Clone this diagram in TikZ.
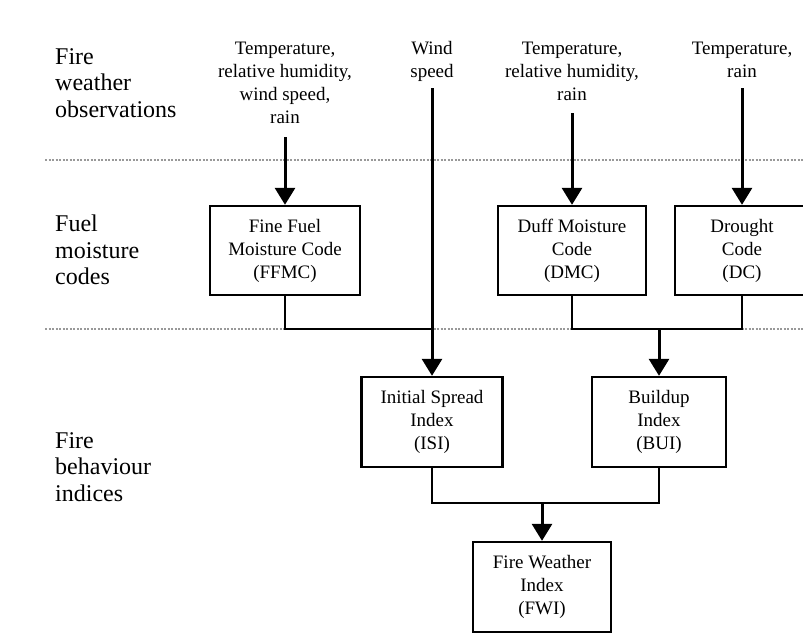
\documentclass[tikz,border=0pt]{standalone}
\usepackage{fontspec}
\setmainfont{Liberation Serif}
\usetikzlibrary{arrows.meta}
\begin{document}
\begin{tikzpicture}[x=1pt,y=-1pt,
  rowlabel/.style={anchor=north west,align=left,inner sep=0pt,
    font=\fontsize{24}{26.5}\selectfont},
  obs/.style={anchor=north,align=center,inner sep=0pt,
    font=\fontsize{19}{23}\selectfont},
  box/.style={draw,line width=2.4pt,align=center,inner sep=0pt,
    minimum height=89pt,font=\fontsize{19}{23}\selectfont},
  link/.style={line width=2.8pt},
  arr/.style={line width=3pt,-{Triangle[length=17pt,width=20pt]}},
  divider/.style={gray!80,line width=1.4pt,dash pattern=on 2pt off 1.5pt}]
\useasboundingbox (0,0) rectangle (803,635);

% section dividers
\draw[divider] (45,160) -- (803,160);
\draw[divider] (45,329) -- (803,329);

% row labels
\node[rowlabel] (lblobs) at (55,48) {Fire\\weather\\observations};
\node[rowlabel] (lblfuel) at (55,215) {Fuel\\moisture\\codes};
\node[rowlabel] (lblbeh) at (55,432) {Fire\\behaviour\\indices};

% weather inputs
\node[obs] (obsFFMC) at (285,42) {Temperature,\\relative humidity,\\wind speed,\\rain};
\node[obs] (obsWind) at (432,41) {Wind\\speed};
\node[obs] (obsDMC) at (572,42) {Temperature,\\relative humidity,\\rain};
\node[obs] (obsDC) at (742,42) {Temperature,\\rain};

\coordinate (inFFMC) at (285,137);
\coordinate (inWind) at (432,88);
\coordinate (inDMC) at (572,113);
\coordinate (inDC) at (742,88);

% fuel moisture codes
\node[box,minimum width=150pt] (ffmc) at (285,250.5) {Fine Fuel\\Moisture Code\\(FFMC)};
\node[box,minimum width=148pt] (dmc) at (572,250.5) {Duff Moisture\\Code\\(DMC)};
\node[box,minimum width=134pt] (dc) at (742,250.5) {Drought\\Code\\(DC)};

% fire behaviour indices
\node[box,minimum width=141pt,minimum height=90pt] (isi) at (432,422) {Initial Spread\\Index\\(ISI)};
\node[box,minimum width=134pt,minimum height=90pt] (bui) at (659,422) {Buildup\\Index\\(BUI)};
\node[box,minimum width=138pt,minimum height=90pt] (fwi) at (542,587) {Fire Weather\\Index\\(FWI)};

% junctions
\coordinate (jISI) at (432,329);
\coordinate (jBUI) at (659,329);
\coordinate (jFWI) at (542,503);

% inputs to codes
\draw[arr] (inFFMC) -- (ffmc.north);
\draw[arr] (inDMC) -- (dmc.north);
\draw[arr] (inDC) -- (dc.north);
\draw[arr] (inWind) -- (isi.north);

% codes to indices
\draw[link] (ffmc.south) |- (jISI);
\draw[link] (dmc.south) |- (jBUI) -| (dc.south);
\draw[arr] (jBUI) -- (bui.north);

% indices to FWI
\draw[link] (isi.south) |- (jFWI) -| (bui.south);
\draw[arr] (jFWI) -- (fwi.north);
\end{tikzpicture}
\end{document}
